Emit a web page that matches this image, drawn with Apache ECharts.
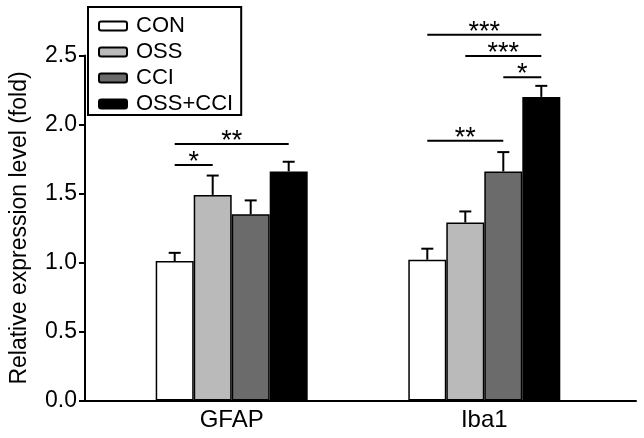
<!DOCTYPE html>
<html>
<head>
<meta charset="utf-8">
<script src="https://cdn.jsdelivr.net/npm/echarts@6/dist/echarts.min.js"></script>
<style>
html,body{margin:0;padding:0;background:#fff;}
#chart{width:644px;height:438px;}
</style>
</head>
<body>
<div id="chart"></div>
<script>
// ---- data ----
const categories = ['GFAP', 'Iba1'];
const seriesNames = ['CON', 'OSS', 'CCI', 'OSS+CCI'];
const conMean = [1.01, 1.02];
const ossMean = [1.49, 1.29];
const cciMean = [1.35, 1.66];
const comboMean = [1.66, 2.20];
const conErr = [0.06, 0.08];
const ossErr = [0.14, 0.08];
const cciErr = [0.10, 0.14];
const comboErr = [0.07, 0.08];
const yTicks = [0, 0.5, 1.0, 1.5, 2.0, 2.5];
// significance: [category index, from group, to group, level, label]
const sigCategory = [0, 0, 1, 1, 1, 1];
const sigFrom = [0, 0, 0, 2, 1, 0];
const sigTo = [1, 3, 2, 3, 3, 3];
const sigLevel = [1.706, 1.859, 1.882, 2.342, 2.496, 2.651];
const sigLabel = ['*', '**', '**', '*', '***', '***'];

const means = [conMean, ossMean, cciMean, comboMean];
const errs = [conErr, ossErr, cciErr, comboErr];
const colors = ['#ffffff', '#bababa', '#6b6b6b', '#000000'];
const FONT = '"Liberation Sans", Arial, sans-serif';
const BAR_W = 38;

const chart = echarts.init(document.getElementById('chart'));

const barSeries = seriesNames.map((name, i) => ({
  name: name,
  type: 'bar',
  xAxisIndex: 1,
  yAxisIndex: 1,
  barWidth: BAR_W,
  barGap: '0%',
  data: means[i],
  itemStyle: { color: colors[i], borderColor: '#000', borderWidth: 1.5 },
  emphasis: { disabled: true },
  z: 2
}));

const errData = [];
means.forEach((arr, s) => arr.forEach((m, c) => errData.push([c, s, m, errs[s][c]])));

const errSeries = {
  type: 'custom',
  xAxisIndex: 1,
  yAxisIndex: 1,
  z: 3,
  silent: true,
  data: errData,
  renderItem: function (params, api) {
    const c = api.value(0), s = api.value(1), m = api.value(2), e = api.value(3);
    const cx = api.coord([c, 0])[0] + (s - 1.5) * BAR_W;
    const y0 = api.coord([c, m])[1];
    const y1 = api.coord([c, m + e])[1];
    const st = { stroke: '#000', lineWidth: 2 };
    return {
      type: 'group',
      children: [
        { type: 'line', shape: { x1: cx, y1: y0, x2: cx, y2: y1 }, style: st },
        { type: 'line', shape: { x1: cx - 6, y1: y1, x2: cx + 6, y2: y1 }, style: st }
      ]
    };
  }
};

const sigData = sigCategory.map((c, i) => [c, sigFrom[i], sigTo[i], sigLevel[i], i]);
const sigSeries = {
  type: 'custom',
  xAxisIndex: 1,
  yAxisIndex: 1,
  z: 4,
  silent: true,
  clip: false,
  data: sigData,
  renderItem: function (params, api) {
    const c = api.value(0), a = api.value(1), b = api.value(2), lv = api.value(3), idx = api.value(4);
    const base = api.coord([c, 0])[0];
    const xa = base + (a - 1.5) * BAR_W;
    const xb = base + (b - 1.5) * BAR_W;
    const y = api.coord([c, lv])[1];
    return {
      type: 'group',
      children: [
        { type: 'line', shape: { x1: xa, y1: y, x2: xb, y2: y }, style: { stroke: '#000', lineWidth: 2 } },
        { type: 'text', style: { text: sigLabel[idx], x: (xa + xb) / 2, y: y + 11, align: 'center', verticalAlign: 'bottom', font: '27px ' + FONT, fill: '#000' } }
      ]
    };
  }
};

const option = {
  animation: false,
  backgroundColor: '#fff',
  grid: [
    { left: 80, right: 8, top: 55.5, bottom: 37.5 },
    { left: 105.4, right: 33.4, top: 55.5, bottom: 37.5 }
  ],
  legend: {
    data: seriesNames,
    orient: 'vertical',
    left: 88,
    top: 7,
    padding: [8, 8, 0, 10],
    borderColor: '#000',
    borderWidth: 2,
    itemWidth: 28,
    itemHeight: 9,
    itemGap: 4,
    selectedMode: false,
    itemStyle: { borderColor: '#000', borderWidth: 2 },
    textStyle: { fontFamily: FONT, fontSize: 22, color: '#000', lineHeight: 21, padding: [0, 0, 0, 4] }
  },
  xAxis: [
    {
      type: 'value', gridIndex: 0, min: 0, max: 1,
      axisLine: { show: true, onZero: false, lineStyle: { color: '#000', width: 2 } },
      axisTick: { show: false }, axisLabel: { show: false }, splitLine: { show: false }
    },
    {
      type: 'category', gridIndex: 1, data: categories,
      axisLine: { show: false }, axisTick: { show: false }, splitLine: { show: false },
      axisLabel: { margin: 8, fontFamily: FONT, fontSize: 24, color: '#000' }
    }
  ],
  yAxis: [
    {
      type: 'value', gridIndex: 0, min: 0, max: 2.5, interval: 0.5,
      name: 'Relative expression level (fold)',
      nameLocation: 'middle', nameGap: 54,
      nameTextStyle: { fontFamily: FONT, fontSize: 23, color: '#000' },
      axisLine: { show: true, lineStyle: { color: '#000', width: 2 } },
      axisTick: { show: true, length: 6, lineStyle: { color: '#000', width: 2 } },
      axisLabel: { margin: 8, fontFamily: FONT, fontSize: 23, color: '#000', formatter: v => (yTicks.includes(v) ? v.toFixed(1) : '') },
      splitLine: { show: false }
    },
    {
      type: 'value', gridIndex: 1, min: 0, max: 2.5, interval: 0.5, show: false, splitLine: { show: false }
    }
  ],
  series: [...barSeries, errSeries, sigSeries]
};
chart.setOption(option);
</script>
</body>
</html>
